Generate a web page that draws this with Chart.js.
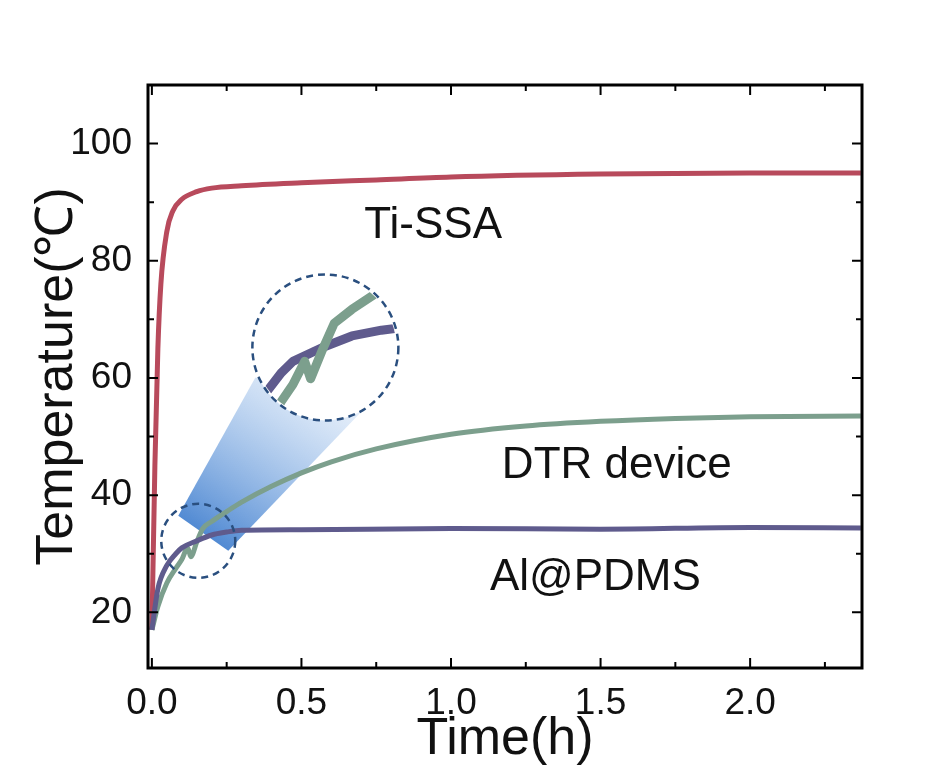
<!DOCTYPE html>
<html>
<head>
<meta charset="utf-8">
<script src="https://cdn.jsdelivr.net/npm/chart.js@4.4.1/dist/chart.umd.min.js"></script>
<style>
  html, body { margin: 0; background: #fff; }
  #wrap { width: 932px; height: 783px; }
</style>
</head>
<body>
<div id="wrap"><canvas id="c"></canvas></div>
<script>
// datos
const timeTi = [0, 0.01, 0.02, 0.03, 0.05, 0.07, 0.1, 0.15, 0.2, 0.3, 0.5, 0.75, 1.0, 1.5, 2.0, 2.37];
const tempTi = [17, 45, 65, 76, 85, 88.5, 90.5, 91.8, 92.4, 92.8, 93.3, 93.8, 94.3, 94.8, 95, 95];

const timeDtr = [0, 0.02, 0.05, 0.08, 0.1, 0.12, 0.13, 0.15, 0.17, 0.2, 0.25, 0.3, 0.4, 0.5, 0.6, 0.75, 1.0, 1.25, 1.5, 1.75, 2.0, 2.37];
const tempDtr = [17, 21, 25, 27.5, 29, 31, 29.5, 32, 34.3, 35.5, 37.2, 38.8, 41.5, 43.8, 45.7, 47.9, 50.4, 51.8, 52.6, 53.1, 53.4, 53.5];

const timeAl = [0, 0.02, 0.05, 0.08, 0.1, 0.15, 0.2, 0.25, 0.3, 0.5, 1.0, 1.5, 2.0, 2.37];
const tempAl = [17, 24, 28, 30, 31, 32.2, 33.2, 33.7, 34, 34.1, 34.3, 34.2, 34.5, 34.4];

const xTicks = [0, 0.5, 1.0, 1.5, 2.0];
const yTicks = [20, 40, 60, 80, 100];

const colTi = '#b84a5c', colDtr = '#7c9f8d', colAl = '#5f5b8d';
const FONT = '"Liberation Sans", Arial, sans-serif';

const pts = (xs, ys) => xs.map((x, i) => ({ x: x, y: ys[i] }));

// círculo pequeño (datos) y círculo grande (datos), radios en px
const zoomSmall = { x: 0.155, y: 32.2, r: 37 };
const zoomBig = { x: 0.58, y: 65.2, r: 73 };

const decoPlugin = {
    id: 'deco',
    beforeDatasetsDraw(chart) {
        const { ctx, scales: { x, y } } = chart;
        const sx = x.getPixelForValue(zoomSmall.x), sy = y.getPixelForValue(zoomSmall.y);
        const bx = x.getPixelForValue(zoomBig.x), by = y.getPixelForValue(zoomBig.y);
        // cono de aumento
        ctx.save();
        const g = ctx.createLinearGradient(sx, sy, bx, by);
        g.addColorStop(0, 'rgba(40,110,200,0.85)');
        g.addColorStop(1, 'rgba(120,170,230,0.05)');
        ctx.fillStyle = g;
        ctx.beginPath();
        ctx.moveTo(sx - 20, sy - 25);
        ctx.lineTo(bx - 70, by + 30);
        ctx.lineTo(bx + 40, by + 60);
        ctx.lineTo(sx + 30, sy + 10);
        ctx.closePath();
        ctx.fill();
        ctx.restore();
    },
    afterDatasetsDraw(chart) {
        const { ctx, chartArea: a, scales: { x, y } } = chart;
        const sx = x.getPixelForValue(zoomSmall.x), sy = y.getPixelForValue(zoomSmall.y);
        const bx = x.getPixelForValue(zoomBig.x), by = y.getPixelForValue(zoomBig.y);
        const k = zoomBig.r / zoomSmall.r;
        // curvas ampliadas dentro del círculo grande
        ctx.save();
        ctx.fillStyle = '#fff';
        ctx.beginPath(); ctx.arc(bx, by, zoomBig.r, 0, Math.PI * 2); ctx.fill();
        ctx.beginPath(); ctx.arc(bx, by, zoomBig.r - 2, 0, Math.PI * 2); ctx.clip();
        [[timeAl, tempAl, colAl], [timeDtr, tempDtr, colDtr]].forEach(([xs, ys, c]) => {
            ctx.strokeStyle = c; ctx.lineWidth = 9; ctx.lineJoin = 'round';
            ctx.beginPath();
            xs.forEach((t, i) => {
                const px = bx + (x.getPixelForValue(t) - sx) * k;
                const py = by + (y.getPixelForValue(ys[i]) - sy) * k;
                i ? ctx.lineTo(px, py) : ctx.moveTo(px, py);
            });
            ctx.stroke();
        });
        ctx.restore();
        // círculos punteados
        ctx.save();
        ctx.strokeStyle = '#2a4f7f'; ctx.lineWidth = 2.5; ctx.setLineDash([7, 5]);
        ctx.beginPath(); ctx.arc(sx, sy, zoomSmall.r, 0, Math.PI * 2); ctx.stroke();
        ctx.beginPath(); ctx.arc(bx, by, zoomBig.r, 0, Math.PI * 2); ctx.stroke();
        ctx.restore();
        // etiquetas
        ctx.save();
        ctx.fillStyle = '#111';
        ctx.font = '44px ' + FONT;
        ctx.textBaseline = 'middle';
        ctx.fillText('Ti-SSA', x.getPixelForValue(0.71), y.getPixelForValue(86));
        ctx.fillText('DTR device', x.getPixelForValue(1.17), y.getPixelForValue(45));
        ctx.fillText('Al@PDMS', x.getPixelForValue(1.13), y.getPixelForValue(25.8));
        // marco y ticks hacia dentro
        ctx.strokeStyle = '#000'; ctx.lineWidth = 3;
        ctx.strokeRect(a.left, a.top, a.right - a.left, a.bottom - a.top);
        ctx.lineWidth = 2;
        for (let v = 0; v <= 2.35; v += 0.25) {
            const px = x.getPixelForValue(v);
            const len = Math.abs(v * 2 - Math.round(v * 2)) < 1e-6 ? 10 : 6;
            ctx.beginPath();
            ctx.moveTo(px, a.bottom); ctx.lineTo(px, a.bottom - len);
            ctx.moveTo(px, a.top); ctx.lineTo(px, a.top + len);
            ctx.stroke();
        }
        for (let v = 20; v <= 100; v += 10) {
            const py = y.getPixelForValue(v);
            const len = v % 20 === 0 ? 10 : 6;
            ctx.beginPath();
            ctx.moveTo(a.left, py); ctx.lineTo(a.left + len, py);
            ctx.moveTo(a.right, py); ctx.lineTo(a.right - len, py);
            ctx.stroke();
        }
        ctx.restore();
    }
};

const lineDs = (data, color) => ({
    data: data, borderColor: color, borderWidth: 5, pointRadius: 0,
    tension: 0.3, cubicInterpolationMode: 'monotone'
});

new Chart(document.getElementById('c'), {
    type: 'line',
    data: {
        datasets: [
            lineDs(pts(timeAl, tempAl), colAl),
            lineDs(pts(timeDtr, tempDtr), colDtr),
            lineDs(pts(timeTi, tempTi), colTi)
        ]
    },
    options: {
        responsive: true,
        maintainAspectRatio: false,
        animation: false,
        layout: { padding: { top: 85, right: 70, left: 22, bottom: 8 } },
        plugins: { legend: { display: false }, tooltip: { enabled: false } },
        scales: {
            x: {
                type: 'linear', min: -0.013, max: 2.374,
                afterBuildTicks: s => { s.ticks = xTicks.map(v => ({ value: v })); },
                afterFit: s => { s.height = 107; },
                grid: { display: false }, border: { display: false },
                ticks: { color: '#111', font: { size: 37, family: FONT }, padding: 6,
                         callback: v => v.toFixed(1) },
                title: { display: true, text: 'Time(h)', color: '#111', padding: { top: 0 },
                         font: { size: 52, family: FONT } }
            },
            y: {
                min: 10.5, max: 110,
                afterBuildTicks: s => { s.ticks = yTicks.map(v => ({ value: v })); },
                afterFit: s => { s.width = 126; },
                grid: { display: false }, border: { display: false },
                ticks: { color: '#111', font: { size: 37, family: FONT }, padding: 8 },
                title: { display: true, text: 'Temperature(℃)', color: '#111', padding: { bottom: 0 },
                         font: { size: 52, family: FONT } }
            }
        }
    },
    plugins: [decoPlugin]
});
</script>
</body>
</html>
